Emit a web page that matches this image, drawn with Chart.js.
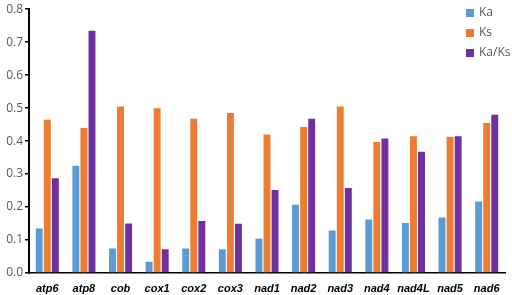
<!DOCTYPE html>
<html>
<head>
<meta charset="utf-8">
<script src="https://cdn.jsdelivr.net/npm/chart.js@4/dist/chart.umd.min.js"></script>
<style>
  html, body { margin: 0; padding: 0; background: #fff; }
  #wrap { width: 512px; height: 295px; position: relative; }
</style>
</head>
<body>
<div id="wrap"><canvas id="c"></canvas></div>
<script>
// gene names on the x axis
const genes = ['atp6', 'atp8', 'cob', 'cox1', 'cox2', 'cox3', 'nad1', 'nad2', 'nad3', 'nad4', 'nad4L', 'nad5', 'nad6'];

// values
const ka   = [0.135, 0.325, 0.074, 0.034, 0.074, 0.072, 0.105, 0.207, 0.129, 0.162, 0.152, 0.168, 0.217];
const ks   = [0.465, 0.440, 0.505, 0.500, 0.468, 0.485, 0.420, 0.443, 0.505, 0.397, 0.415, 0.413, 0.455];
const kaks = [0.287, 0.735, 0.150, 0.072, 0.158, 0.149, 0.252, 0.468, 0.258, 0.408, 0.368, 0.415, 0.480];

const yTicks = [0, 0.1, 0.2, 0.3, 0.4, 0.5, 0.6, 0.7, 0.8];

// little vertical legend in the top-right corner, inside the plot
const cornerLegend = {
  id: 'cornerLegend',
  afterDraw(chart) {
    const ctx = chart.ctx;
    ctx.save();
    ctx.font = '12px "Open Sans", sans-serif';
    ctx.textBaseline = 'middle';
    chart.data.datasets.forEach((ds, i) => {
      const y = 13 + i * 20;
      ctx.fillStyle = ds.backgroundColor;
      ctx.fillRect(466, y - 4, 8, 8);
      ctx.fillStyle = '#595959';
      ctx.fillText(ds.label, 479, y);
    });
    ctx.restore();
  }
};

new Chart(document.getElementById('c'), {
  type: 'bar',
  data: {
    labels: genes,
    datasets: [
      { label: 'Ka',    data: ka,   backgroundColor: '#5B9BD5' },
      { label: 'Ks',    data: ks,   backgroundColor: '#ED7D31' },
      { label: 'Ka/Ks', data: kaks, backgroundColor: '#7030A0' },
    ],
  },
  options: {
    responsive: true,
    maintainAspectRatio: false,
    animation: false,
    layout: { padding: { top: 6, right: 7 } },
    datasets: { bar: { barPercentage: 0.86, categoryPercentage: 0.66 } },
    plugins: { legend: { display: false }, tooltip: { enabled: false } },
    scales: {
      x: {
        grid: { display: false },
        border: { color: '#000', width: 1.5 },
        ticks: {
          color: '#000',
          padding: 1,
          maxRotation: 0,
          font: { family: '"Liberation Sans", Arial, sans-serif', size: 11, weight: 'bold', style: 'italic' },
        },
        afterFit(s) { s.height = 22; },
      },
      y: {
        min: 0,
        max: 0.8,
        afterBuildTicks(s) { s.ticks = yTicks.map(v => ({ value: v })); },
        grid: { drawOnChartArea: false, color: '#000', tickLength: 4, lineWidth: 1.5 },
        border: { color: '#000', width: 2 },
        ticks: {
          color: '#595959',
          padding: 2,
          font: { family: '"Open Sans", sans-serif', size: 12 },
          callback: v => v.toFixed(1),
        },
        afterFit(s) { s.width = 29; },
      },
    },
  },
  plugins: [cornerLegend],
});
</script>
</body>
</html>
